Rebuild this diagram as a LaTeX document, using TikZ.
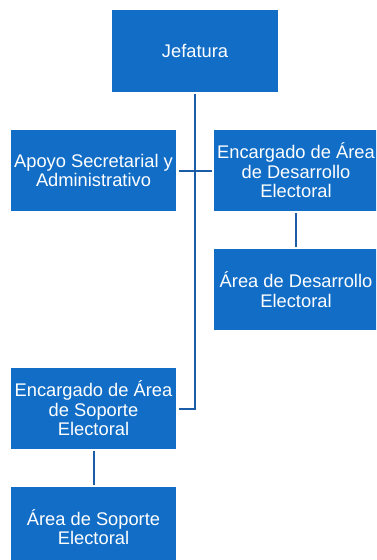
\documentclass[tikz,border=0pt]{standalone}
\usepackage{fontspec}
\setmainfont{Liberation Sans}
\definecolor{boxblue}{RGB}{17,109,198}
\definecolor{lineblue}{RGB}{26,92,168}
\begin{document}
\begin{tikzpicture}[x=1pt,y=-1pt,
  orgbox/.style={fill=boxblue,draw=none,text=white,align=center,font=\fontsize{18.3}{19.5}\selectfont,inner sep=0pt},
  conn/.style={draw=lineblue,line width=2pt}]
\useasboundingbox (0,0) rectangle (376,560);
\begin{scope}
\clip (0,0) rectangle (376,560);
\fill[boxblue] (112,10) rectangle (278,92);
\node[orgbox] (jef) at (195,51) {Jefatura};
% boxes
\fill[boxblue] (11,130) rectangle (176,211);
\node[orgbox] (apo) at (93.5,170.5) {Apoyo Secretarial y\\Administrativo};
\fill[boxblue] (214,130) rectangle (380,211);
\node[orgbox] (encd) at (296,170.5) {Encargado de Área\\de Desarrollo\\Electoral};
\fill[boxblue] (214,249) rectangle (380,330);
\node[orgbox] (ared) at (296,289.5) {Área de Desarrollo\\Electoral};
\fill[boxblue] (11,368) rectangle (176,449);
\node[orgbox] (encs) at (93.5,408.5) {Encargado de Área\\de Soporte\\Electoral};
\fill[boxblue] (11,487) rectangle (176,568);
\node[orgbox] (ares) at (93.5,527) {Área de Soporte\\Electoral};
\end{scope}
% connectors
\coordinate (topc) at (195,94);
\coordinate (corner) at (195,409);
\coordinate (soR) at (179,409);
\coordinate (apR) at (179,171);
\coordinate (edL) at (212,171);
\coordinate (ed1) at (296,213);
\coordinate (ed2) at (296,247);
\coordinate (es1) at (93.5,451);
\coordinate (es2) at (93.5,485);
\draw[conn] (topc) -- (corner) -- (soR);
\draw[conn] (apR) -- (edL);
\draw[conn] (ed1) -- (ed2);
\draw[conn] (es1) -- (es2);
\end{tikzpicture}
\end{document}
